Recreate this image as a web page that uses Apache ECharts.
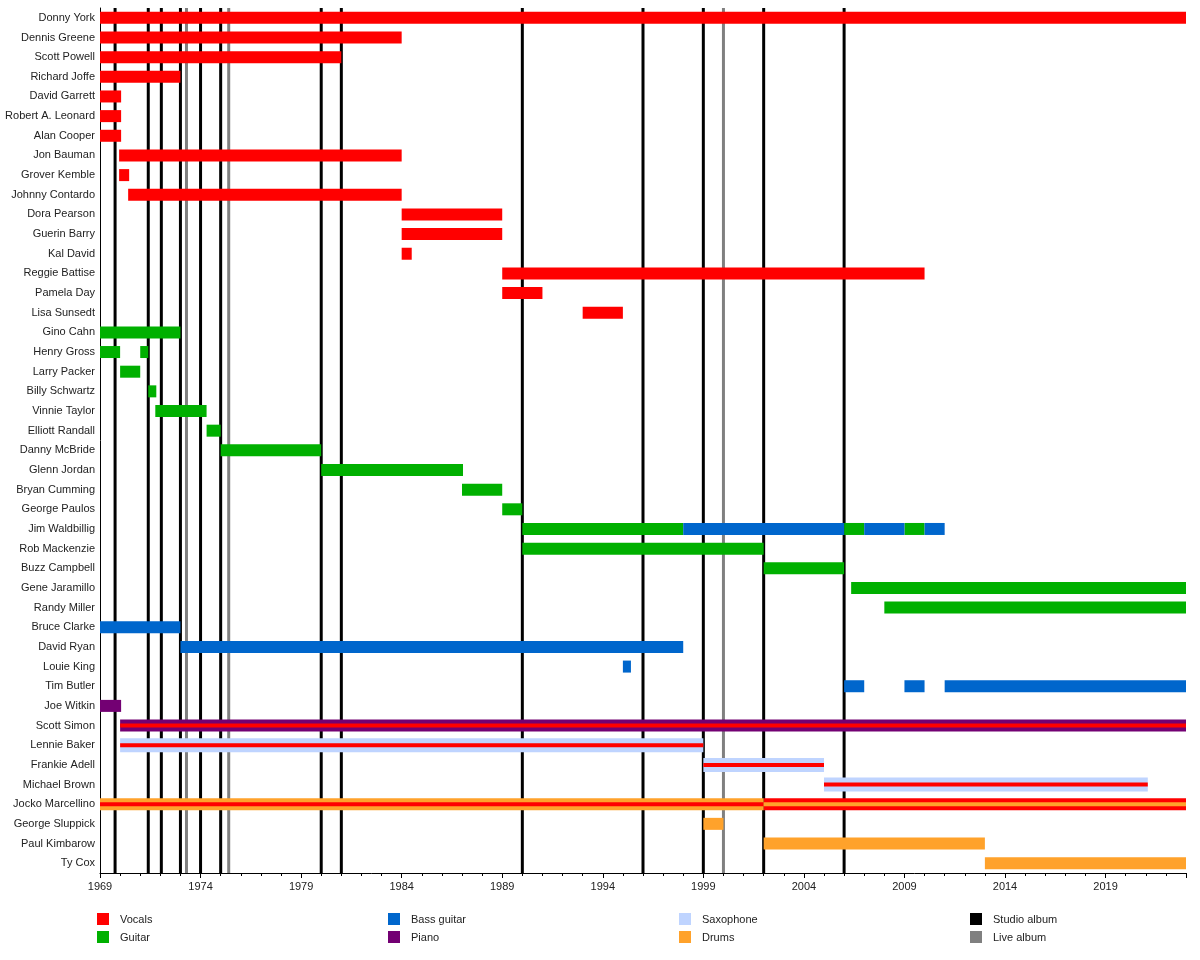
<!DOCTYPE html>
<html>
<head>
<meta charset="utf-8">
<script src="https://cdn.jsdelivr.net/npm/echarts@6/dist/echarts.min.js"></script>
<style>html,body{margin:0;background:#fff}#chart{width:1200px;height:960px}</style>
</head>
<body>
<div id="chart"></div>
<script>
const members = ["Donny York","Dennis Greene","Scott Powell","Richard Joffe","David Garrett","Robert A. Leonard","Alan Cooper","Jon Bauman","Grover Kemble","Johnny Contardo","Dora Pearson","Guerin Barry","Kal David","Reggie Battise","Pamela Day","Lisa Sunsedt","Gino Cahn","Henry Gross","Larry Packer","Billy Schwartz","Vinnie Taylor","Elliott Randall","Danny McBride","Glenn Jordan","Bryan Cumming","George Paulos","Jim Waldbillig","Rob Mackenzie","Buzz Campbell","Gene Jaramillo","Randy Miller","Bruce Clarke","David Ryan","Louie King","Tim Butler","Joe Witkin","Scott Simon","Lennie Baker","Frankie Adell","Michael Brown","Jocko Marcellino","George Sluppick","Paul Kimbarow","Ty Cox"];

// [member, start, end]
const vocals = [["Donny York",1969,2023],["Dennis Greene",1969,1984],["Scott Powell",1969,1981],["Richard Joffe",1969,1973],["David Garrett",1969,1970.05],["Robert A. Leonard",1969,1970.05],["Alan Cooper",1969,1970.05],["Jon Bauman",1969.95,1984],["Grover Kemble",1969.95,1970.45],["Johnny Contardo",1970.4,1984],["Dora Pearson",1984,1989],["Guerin Barry",1984,1989],["Kal David",1984,1984.5],["Reggie Battise",1989,2010],["Pamela Day",1989,1991],["Lisa Sunsedt",1993,1995],["Jocko Marcellino",2002,2023]];
const guitar = [["Gino Cahn",1969,1973],["Henry Gross",1969,1970],["Henry Gross",1971,1971.4],["Larry Packer",1970,1971],["Billy Schwartz",1971.4,1971.8],["Vinnie Taylor",1971.75,1974.3],["Elliott Randall",1974.3,1975],["Danny McBride",1975,1980],["Glenn Jordan",1980,1987.05],["Bryan Cumming",1987,1989],["George Paulos",1989,1990],["Jim Waldbillig",1990,1998],["Jim Waldbillig",2006,2007],["Jim Waldbillig",2009,2010],["Rob Mackenzie",1990,2002],["Buzz Campbell",2002,2006],["Gene Jaramillo",2006.35,2023],["Randy Miller",2008,2023]];
const bass = [["Jim Waldbillig",1998,2006],["Jim Waldbillig",2007,2009],["Jim Waldbillig",2010,2011],["Bruce Clarke",1969,1973],["David Ryan",1973,1998],["Louie King",1995,1995.4],["Tim Butler",2006,2007],["Tim Butler",2009,2010],["Tim Butler",2011,2023]];
const piano = [["Joe Witkin",1969,1970.05],["Scott Simon",1970,2023]];
const sax = [["Lennie Baker",1970,1999],["Frankie Adell",1999,2005],["Michael Brown",2005,2021.1]];
const drums = [["Jocko Marcellino",1969,2002],["George Sluppick",1999,2000],["Paul Kimbarow",2002,2013],["Ty Cox",2013,2023]];
// secondary roles drawn as thin stripes
const vocalsThin = [["Scott Simon",1970,2023],["Lennie Baker",1970,1999],["Frankie Adell",1999,2005],["Michael Brown",2005,2021.1],["Jocko Marcellino",1969,2002]];
const drumsThin = [["Jocko Marcellino",2002,2023]];

const studioAlbums = [1969.75,1971.4,1972.05,1973,1974,1975,1980,1981,1990,1996,1999,2002,2006];
const liveAlbums = [1973.3,1975.4,2000];

const legendItems = [["Vocals","#ff0000"],["Guitar","#00b000"],["Bass guitar","#0066cc"],["Piano","#730073"],["Saxophone","#bfd4ff"],["Drums","#ffa22b"],["Studio album","#000000"],["Live album","#808080"]];

const chart = echarts.init(document.getElementById('chart'));

function barSeries(data, color, h) {
  return {
    type: 'custom', silent: true, animation: false,
    data: data.map(d => [d[1], d[2], members.indexOf(d[0])]),
    encode: { x: [0, 1], y: 2 },
    renderItem: (params, api) => {
      const a = api.coord([api.value(0), api.value(2)]);
      const b = api.coord([api.value(1), api.value(2)]);
      return { type: 'rect', shape: { x: a[0], y: a[1] - h / 2, width: b[0] - a[0], height: h }, style: { fill: color } };
    }
  };
}
function lineSeries(years, color) {
  return {
    type: 'custom', silent: true, animation: false, z: 1,
    data: years.map(y => [y]),
    encode: { x: 0 },
    renderItem: (params, api) => {
      const p = api.coord([api.value(0), 0]);
      const top = params.coordSys.y, bottom = params.coordSys.y + params.coordSys.height;
      return { type: 'line', shape: { x1: p[0], y1: top, x2: p[0], y2: bottom }, style: { stroke: color, lineWidth: 3 } };
    }
  };
}

const graphic = [];
legendItems.forEach((it, i) => {
  const col = Math.floor(i / 2), row = i % 2;
  const x = 97 + col * 291, y = 913 + row * 18;
  graphic.push({ type: 'rect', left: x, top: y, shape: { width: 12, height: 12 }, style: { fill: it[1] } });
  graphic.push({ type: 'text', left: x + 23, top: y + 1, style: { text: it[0], fill: '#222', font: '11px "Liberation Sans", Arial' } });
});

chart.setOption({
  animation: false,
  grid: { left: 100, right: 14, top: 8, height: 865 },
  xAxis: {
    type: 'value', min: 1969, max: 2023, interval: 5,
    axisLine: { show: true, lineStyle: { color: '#000', width: 1 } },
    axisTick: { show: true, inside: false, length: 5, lineStyle: { color: '#000' } },
    minorTick: { show: true, splitNumber: 5, length: 3, lineStyle: { color: '#000' } },
    splitLine: { show: false },
    axisLabel: { color: '#222', fontSize: 11, fontFamily: 'Liberation Sans', formatter: v => String(v), showMaxLabel: false }
  },
  yAxis: {
    type: 'category', data: members, inverse: true,
    axisLine: { show: true, lineStyle: { color: '#000', width: 1 } },
    axisTick: { show: false },
    axisLabel: { color: '#222', fontSize: 11, fontFamily: 'Liberation Sans', margin: 5 }
  },
  graphic: graphic,
  series: [
    lineSeries(studioAlbums, '#000'),
    lineSeries(liveAlbums, '#808080'),
    barSeries(sax, '#bfd4ff', 14),
    barSeries(vocals, '#ff0000', 12),
    barSeries(guitar, '#00b000', 12),
    barSeries(bass, '#0066cc', 12),
    barSeries(piano, '#730073', 12),
    barSeries(drums, '#ffa22b', 12),
    barSeries(vocalsThin, '#ff0000', 4),
    barSeries(drumsThin, '#ffa22b', 4)
  ]
});
</script>
</body>
</html>
